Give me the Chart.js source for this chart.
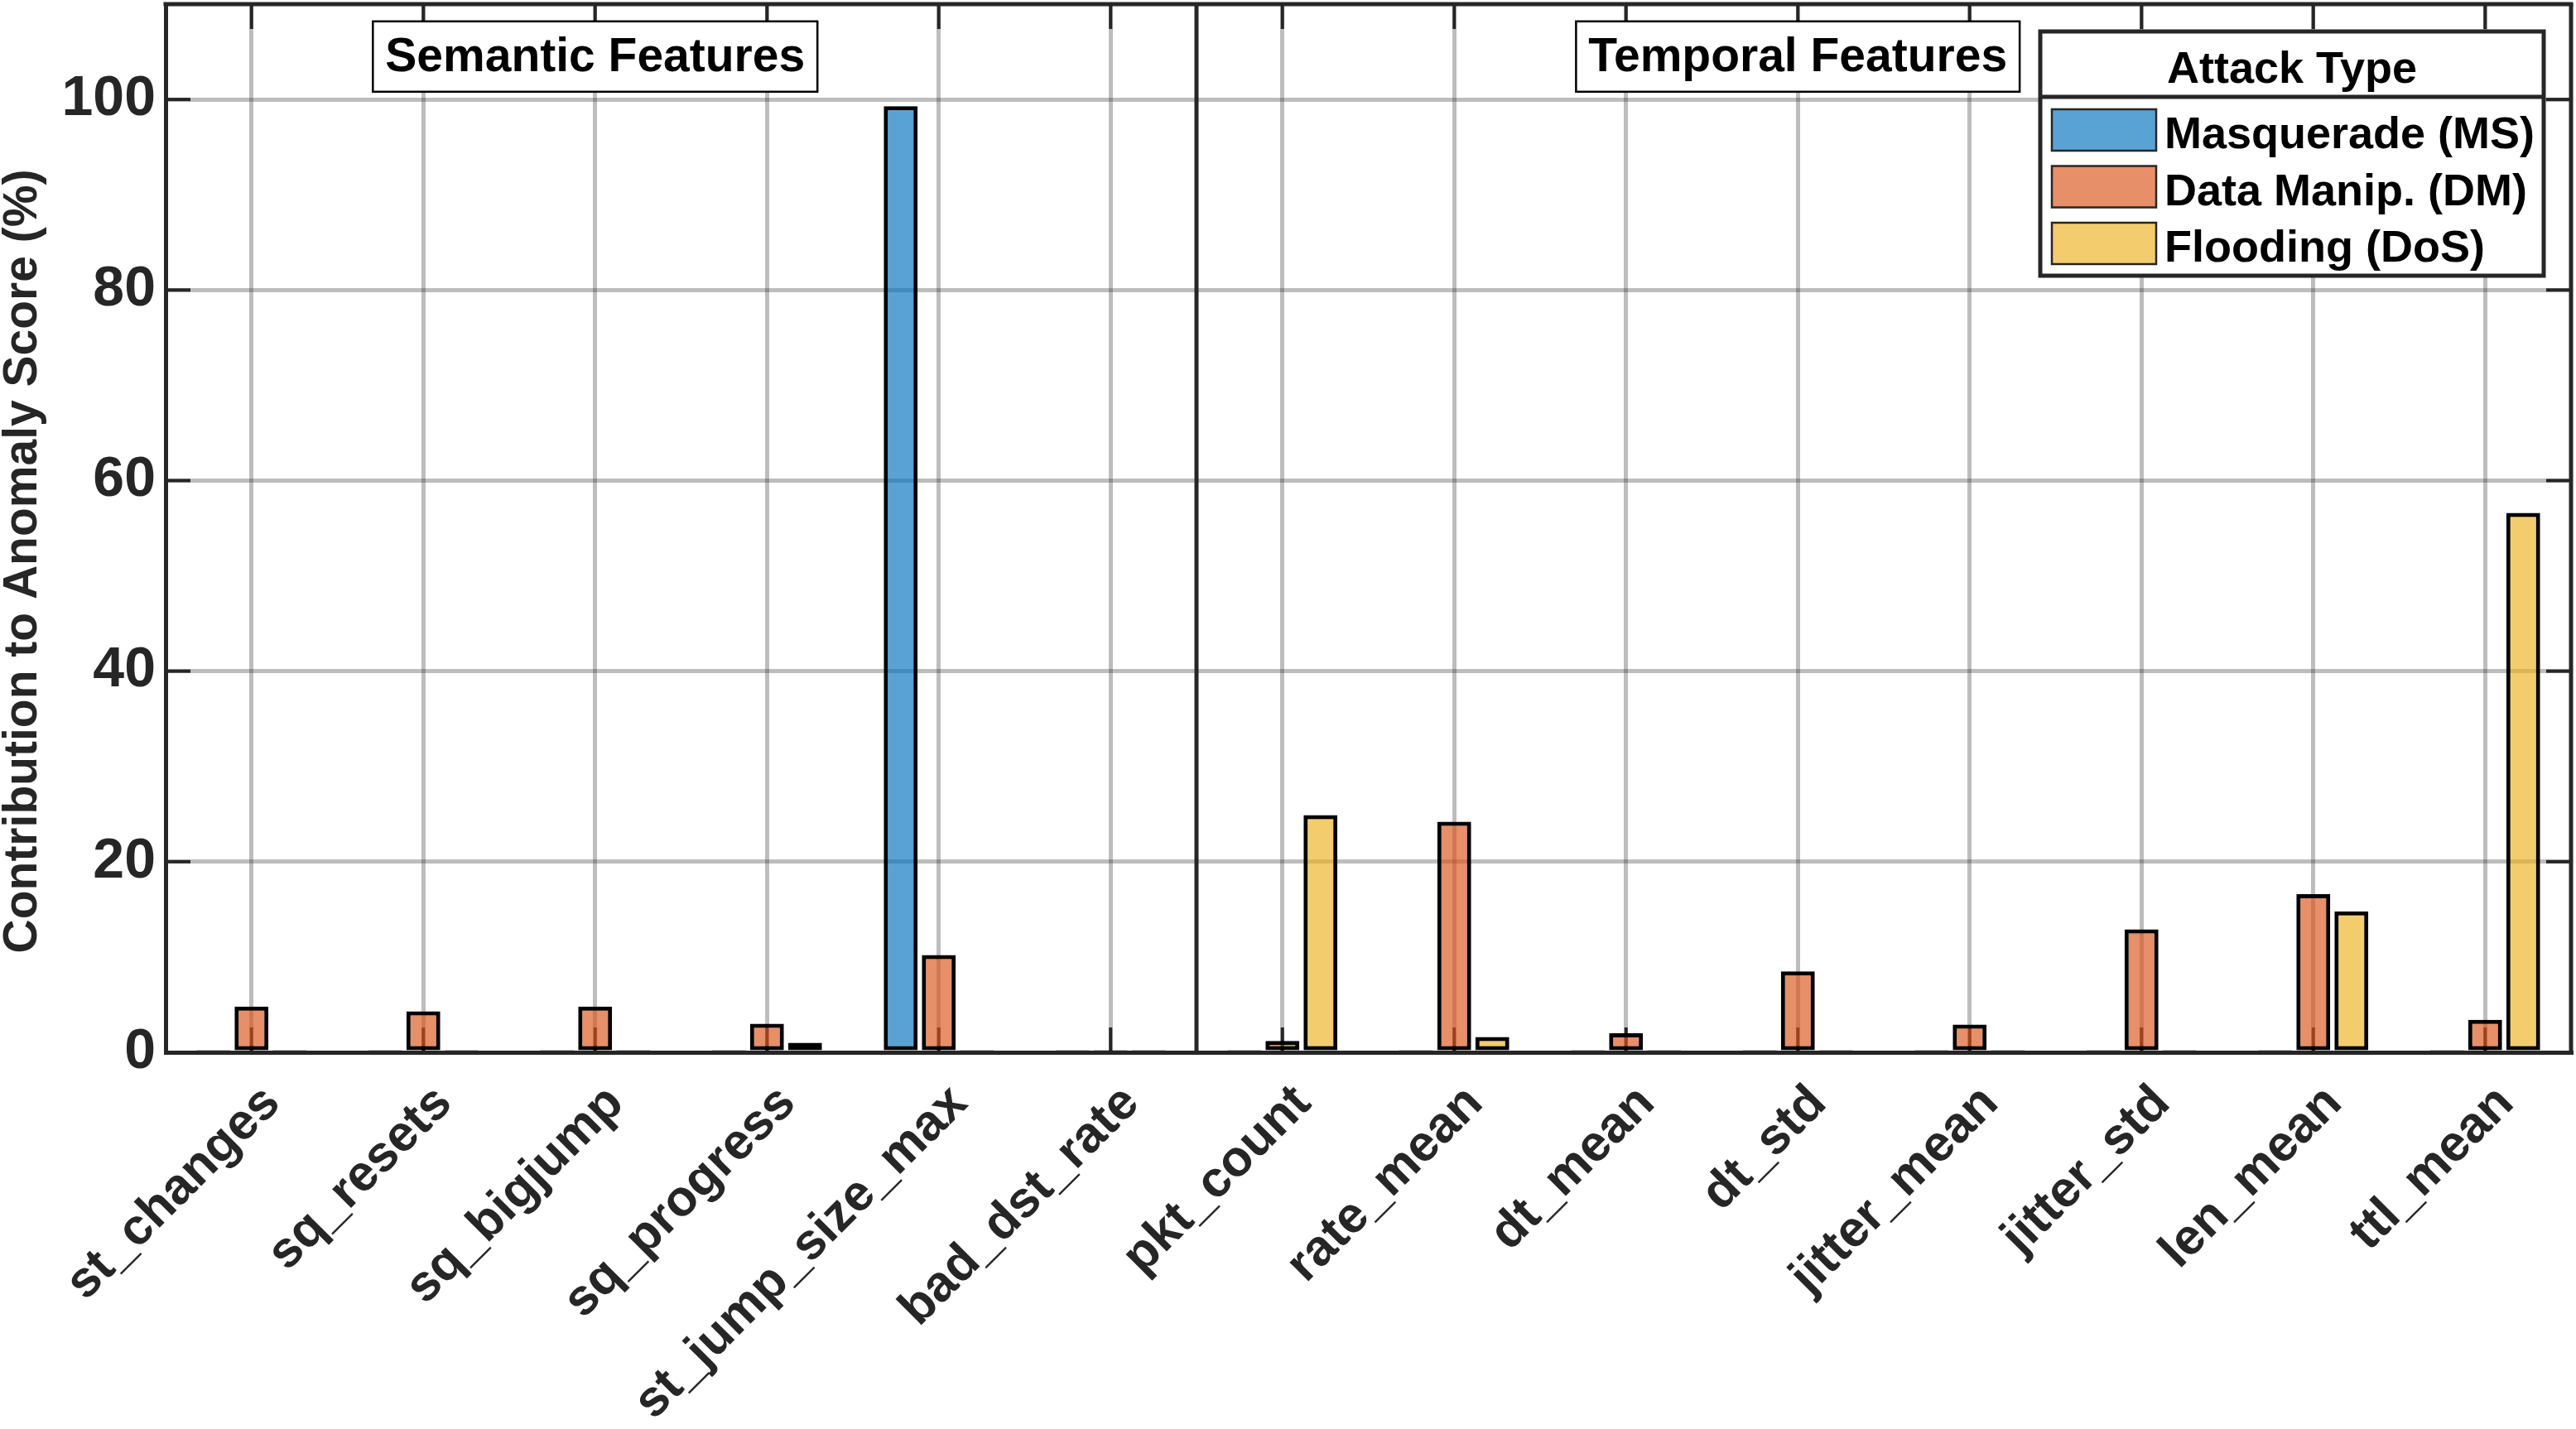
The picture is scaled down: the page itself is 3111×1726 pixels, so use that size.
<!DOCTYPE html>
<html>
<head>
<meta charset="utf-8">
<script src="https://cdn.jsdelivr.net/npm/chart.js@4.4.1/dist/chart.umd.min.js"></script>
<style>
html, body { margin: 0; padding: 0; background: #fff; }
</style>
</head>
<body>
<canvas id="barChart" width="3111" height="1726"></canvas>
<script>
// feature names on the x axis (first 6 semantic, rest temporal)
var features = ['st_changes', 'sq_resets', 'sq_bigjump', 'sq_progress', 'st_jump_size_max', 'bad_dst_rate',
                'pkt_count', 'rate_mean', 'dt_mean', 'dt_std', 'jitter_mean', 'jitter_std', 'len_mean', 'ttl_mean'];
var semanticCount = 6;
var groupTitles = ['Semantic Features', 'Temporal Features'];
var attackTypes = ['Masquerade (MS)', 'Data Manip. (DM)', 'Flooding (DoS)'];
var yTitle = 'Contribution to Anomaly Score (%)';

// contribution to anomaly score (%)
var msValues  = [0, 0, 0, 0.2, 99.3, 0,   0, 0, 0, 0, 0, 0, 0, 0];
var dmValues  = [4.8, 4.3, 4.8, 3.0, 10.2, 0,   1.2, 24.2, 2.0, 8.5, 2.9, 12.9, 16.6, 3.4];
var dosValues = [0, 0, 0, 1.0, 0, 0,   24.9, 1.6, 0, 0, 0.2, 0.2, 14.8, 56.6];

var yTicks = [0, 20, 40, 60, 80, 100];
var yMax = 110;

var FONT = '"Liberation Sans", Arial, Helvetica, sans-serif';
var DARK = '#262626';
var GRID = 'rgba(38,38,38,0.3)';

// white page behind the chart
var whiteBg = {
    id: 'whiteBg',
    beforeDraw: function (chart) {
        var ctx = chart.ctx;
        ctx.save();
        ctx.fillStyle = '#fff';
        ctx.fillRect(0, 0, chart.width, chart.height);
        ctx.restore();
    }
};

function line(ctx, x1, y1, x2, y2) {
    ctx.beginPath();
    ctx.moveTo(x1, y1);
    ctx.lineTo(x2, y2);
    ctx.stroke();
}

// inward tick marks on all four sides + divider between the two feature groups
var axisDecor = {
    id: 'axisDecor',
    beforeDatasetsDraw: function (chart) {
        var ctx = chart.ctx, a = chart.chartArea;
        var xs = chart.scales.x, ys = chart.scales.y;
        var tl = 30;
        ctx.save();
        ctx.strokeStyle = DARK;
        ctx.lineWidth = 4;
        xs.ticks.forEach(function (t, i) {
            var px = xs.getPixelForTick(i);
            line(ctx, px, a.bottom, px, a.bottom - tl);
            line(ctx, px, a.top, px, a.top + tl);
        });
        ys.ticks.forEach(function (t, i) {
            var py = ys.getPixelForTick(i);
            line(ctx, a.left, py, a.left + tl, py);
            line(ctx, a.right, py, a.right - tl, py);
        });
        var dx = (xs.getPixelForValue(semanticCount - 1) + xs.getPixelForValue(semanticCount)) / 2;
        ctx.lineWidth = 5;
        line(ctx, dx, a.top, dx, a.bottom);

        // y axis title, sits a bit below the middle of the plot like the original
        ctx.translate(28, (a.top + a.bottom) / 2 + 40);
        ctx.rotate(-Math.PI / 2);
        ctx.font = 'bold 57px ' + FONT;
        ctx.fillStyle = DARK;
        ctx.textAlign = 'center';
        ctx.textBaseline = 'middle';
        ctx.fillText(yTitle, 0, 0);
        ctx.restore();
    },
    afterDatasetsDraw: function (chart) {
        var ctx = chart.ctx, a = chart.chartArea;
        var xs = chart.scales.x, ys = chart.scales.y;
        ctx.save();
        ctx.strokeStyle = DARK;
        ctx.lineWidth = 5;
        line(ctx, a.left - 2.5, a.top, a.right + 2.5, a.top);
        line(ctx, a.right, a.top, a.right, a.bottom);

        // group title boxes
        ctx.font = 'bold 57px ' + FONT;
        ctx.textAlign = 'center';
        ctx.textBaseline = 'middle';
        var centres = [2, 9];
        var cy = ys.getPixelForValue(104.5);
        groupTitles.forEach(function (t, i) {
            var cx = xs.getPixelForValue(centres[i]);
            var w = ctx.measureText(t).width + 30;
            var h = 85;
            ctx.fillStyle = '#fff';
            ctx.fillRect(cx - w / 2, cy - h / 2, w, h);
            ctx.lineWidth = 2.5;
            ctx.strokeStyle = '#000';
            ctx.strokeRect(cx - w / 2, cy - h / 2, w, h);
            ctx.fillStyle = '#000';
            ctx.fillText(t, cx, cy + 2);
        });
        ctx.restore();
    }
};

// boxed legend with a title row
var attackLegend = {
    id: 'attackLegend',
    afterDraw: function (chart) {
        var ctx = chart.ctx, a = chart.chartArea;
        var w = 608, h = 295;
        var left = a.right - 33 - w, top = a.top + 33;
        ctx.save();
        ctx.fillStyle = '#fff';
        ctx.fillRect(left, top, w, h);
        ctx.strokeStyle = DARK;
        ctx.lineWidth = 5;
        ctx.strokeRect(left, top, w, h);
        line(ctx, left, top + 79, left + w, top + 79);
        ctx.font = 'bold 54px ' + FONT;
        ctx.fillStyle = '#000';
        ctx.textAlign = 'center';
        ctx.textBaseline = 'alphabetic';
        ctx.fillText('Attack Type', left + w / 2, top + 62);
        ctx.textAlign = 'left';
        chart.data.datasets.forEach(function (ds, i) {
            var sy = top + 94 + i * 68.5;
            ctx.fillStyle = '#fff';
            ctx.fillRect(left + 14, sy, 126, 50);
            ctx.fillStyle = ds.backgroundColor;
            ctx.fillRect(left + 14, sy, 126, 50);
            ctx.lineWidth = 2.5;
            ctx.strokeStyle = DARK;
            ctx.strokeRect(left + 14, sy, 126, 50);
            ctx.fillStyle = '#000';
            ctx.fillText(ds.label, left + 150, sy + 47);
        });
        ctx.restore();
    }
};

function makeDataset(label, values, color) {
    return {
        label: label,
        data: values,
        backgroundColor: color,
        borderColor: '#000',
        borderWidth: 5,
        borderSkipped: false,
        inflateAmount: 0,
        categoryPercentage: 0.665,
        barPercentage: 0.89,
        minBarLength: 3
    };
}

var ctx = document.getElementById('barChart').getContext('2d');
var chart = new Chart(ctx, {
    type: 'bar',
    data: {
        labels: features,
        datasets: [
            makeDataset(attackTypes[0], msValues, 'rgba(0,114,189,0.65)'),
            makeDataset(attackTypes[1], dmValues, 'rgba(217,83,25,0.65)'),
            makeDataset(attackTypes[2], dosValues, 'rgba(237,177,32,0.65)')
        ]
    },
    options: {
        responsive: false,
        animation: false,
        devicePixelRatio: 1,
        layout: { padding: { top: 5, right: 6, left: 0, bottom: 0 } },
        plugins: {
            legend: { display: false },
            tooltip: { enabled: false }
        },
        scales: {
            x: {
                offset: true,
                grid: { offset: false, color: GRID, lineWidth: 5, drawTicks: false },
                border: { display: true, color: DARK, width: 5 },
                ticks: {
                    autoSkip: false,
                    minRotation: 45,
                    maxRotation: 45,
                    labelOffset: 25,
                    padding: 26,
                    color: DARK,
                    font: { family: FONT, size: 61, weight: 'bold' }
                },
                afterFit: function (scale) {
                    scale.height = 455;
                    scale.paddingLeft = 0;
                    scale.paddingRight = 0;
                }
            },
            y: {
                min: 0,
                max: yMax,
                grid: { color: GRID, lineWidth: 5, drawTicks: false },
                border: { display: true, color: DARK, width: 5 },
                ticks: {
                    stepSize: 20,
                    padding: 12,
                    color: DARK,
                    font: { family: FONT, size: 68, weight: 'bold' }
                },
                afterBuildTicks: function (scale) {
                    scale.ticks = yTicks.map(function (v) { return { value: v }; });
                },
                afterFit: function (scale) {
                    scale.width = 200;
                    scale.paddingTop = 0;
                    scale.paddingBottom = 0;
                }
            }
        }
    },
    plugins: [whiteBg, axisDecor, attackLegend]
});
</script>
</body>
</html>
